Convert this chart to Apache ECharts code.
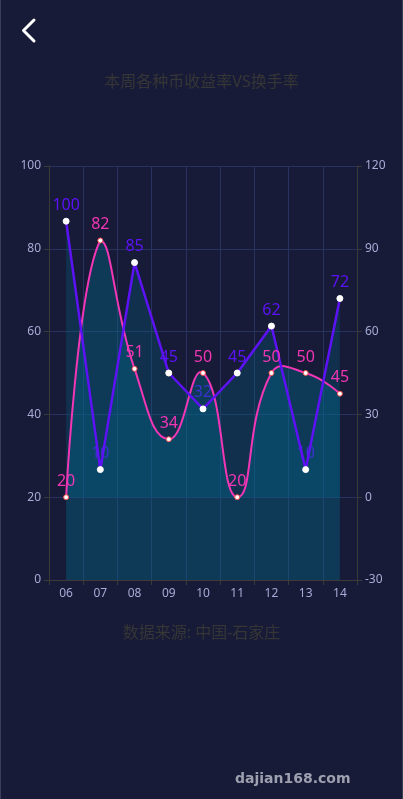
<!DOCTYPE html>
<html>
<head>
<meta charset="utf-8">
<script src="https://cdn.jsdelivr.net/npm/echarts@6/dist/echarts.min.js"></script>
<style>
html,body{margin:0;padding:0;background:#171b37;}
#chart{width:403px;height:799px;}
</style>
</head>
<body>
<div id="chart"></div>
<script>
var categories = ['06','07','08','09','10','11','12','13','14'];
var turnoverRate = [100, 10, 85, 45, 32, 45, 62, 10, 72];   // purple, right axis
var returnRate = [20, 82, 51, 34, 50, 20, 50, 50, 45];       // pink, left axis
var leftTicks = {min: 0, max: 100, interval: 20};
var rightTicks = {min: -30, max: 120, interval: 30};

var axisLabelColor = '#a7abd6';
var splitColor = '#29325f';
var axisLineColor = '#3a3a36';
var areaColor = 'rgba(0,112,145,0.36)';
var purpleColor = '#5c12f5';
var pinkColor = '#f236b6';
var font = "'Noto Sans', 'Noto Sans CJK SC', sans-serif";

// bezier smoothing (control points limited to the bounding box of all points)
function smoothPath(pts, smooth) {
  var minX = Infinity, minY = Infinity, maxX = -Infinity, maxY = -Infinity;
  pts.forEach(function (p) {
    minX = Math.min(minX, p[0]); maxX = Math.max(maxX, p[0]);
    minY = Math.min(minY, p[1]); maxY = Math.max(maxY, p[1]);
  });
  function clamp(c) {
    c[0] = Math.min(maxX, Math.max(minX, c[0]));
    c[1] = Math.min(maxY, Math.max(minY, c[1]));
    return c;
  }
  var n = pts.length, cps = [];
  for (var i = 0; i < n; i++) {
    var p = pts[i];
    if (i === 0 || i === n - 1) { cps.push([p[0], p[1]]); continue; }
    var prev = pts[i - 1], next = pts[i + 1];
    var vx = (next[0] - prev[0]) * smooth, vy = (next[1] - prev[1]) * smooth;
    var d0 = Math.hypot(p[0] - prev[0], p[1] - prev[1]);
    var d1 = Math.hypot(next[0] - p[0], next[1] - p[1]);
    var s = d0 + d1; if (s) { d0 /= s; d1 /= s; }
    cps.push(clamp([p[0] - vx * d0, p[1] - vy * d0]));
    cps.push(clamp([p[0] + vx * d1, p[1] + vy * d1]));
  }
  var d = 'M' + pts[0][0] + ' ' + pts[0][1];
  for (var j = 0; j < n - 1; j++) {
    var a = cps[2 * j], b = cps[2 * j + 1], q = pts[j + 1];
    d += ' C' + a[0] + ' ' + a[1] + ' ' + b[0] + ' ' + b[1] + ' ' + q[0] + ' ' + q[1];
  }
  return d;
}

var chart = echarts.init(document.getElementById('chart'));
chart.setOption({
  backgroundColor: '#171b37',
  textStyle: {fontFamily: font},
  title: [
    {text: '本周各种币收益率VS换手率', left: 'center', top: 69,
     textStyle: {color: '#363636', fontSize: 16, fontWeight: 'normal', fontFamily: font}},
    {text: '数据来源: 中国-石家庄', left: 'center', top: 620,
     textStyle: {color: '#363636', fontSize: 16, fontWeight: 'normal', fontFamily: font}}
  ],
  graphic: [
    {type: 'polyline', shape: {points: [[34, 20], [23.5, 30.5], [34, 41]]},
     style: {stroke: '#ffffff', lineWidth: 3, fill: null, lineCap: 'round', lineJoin: 'round'}},
    {type: 'text', left: 235, top: 772,
     style: {text: 'dajian168.com', fill: '#9ea0b0', font: 'bold 14px "DejaVu Sans"'}},
    {type: 'rect', shape: {x: 0, y: 0, width: 1, height: 799}, style: {fill: '#3a3e58'}},
    {type: 'rect', shape: {x: 402, y: 0, width: 1, height: 799}, style: {fill: '#3a3e58'}}
  ],
  grid: {left: 49, right: 46, top: 166, bottom: 219},
  xAxis: {
    type: 'category',
    data: categories,
    boundaryGap: true,
    axisLine: {lineStyle: {color: axisLineColor}},
    axisTick: {show: true, lineStyle: {color: axisLineColor}},
    axisLabel: {color: axisLabelColor, fontSize: 12, margin: 8},
    splitLine: {show: true, lineStyle: {color: splitColor}}
  },
  yAxis: [
    {type: 'value', min: leftTicks.min, max: leftTicks.max, interval: leftTicks.interval,
     axisLine: {show: true, lineStyle: {color: axisLineColor}},
     axisTick: {show: true, lineStyle: {color: axisLineColor}},
     axisLabel: {color: axisLabelColor, fontSize: 12, margin: 8},
     splitLine: {show: true, lineStyle: {color: splitColor}}},
    {type: 'value', min: rightTicks.min, max: rightTicks.max, interval: rightTicks.interval,
     axisLine: {show: true, lineStyle: {color: axisLineColor}},
     axisTick: {show: true, lineStyle: {color: axisLineColor}},
     axisLabel: {color: axisLabelColor, fontSize: 12, margin: 8},
     splitLine: {show: false}}
  ],
  series: [
    {
      name: '换手率面积', type: 'line', yAxisIndex: 1, data: turnoverRate, z: 2,
      smooth: false, symbol: 'circle', symbolSize: 6,
      lineStyle: {width: 0, opacity: 0},
      itemStyle: {color: 'rgba(0,0,0,0)', borderWidth: 0},
      areaStyle: {color: areaColor},
      label: {show: true, position: 'top', color: purpleColor, fontSize: 16, distance: 5}
    },
    {
      name: '收益率曲线', type: 'custom', yAxisIndex: 0, silent: true, z: 3,
      data: returnRate.map(function (v, i) { return [i, v]; }),
      encode: {x: 0, y: 1},
      renderItem: function (params, api) {
        if (params.dataIndex !== 0) return null;
        var pts = returnRate.map(function (v, i) { return api.coord([i, v]); });
        var path = smoothPath(pts, 0.5);
        var base = api.coord([0, leftTicks.min])[1];
        var first = pts[0], last = pts[pts.length - 1];
        var areaPath = path + ' L' + last[0] + ' ' + base + ' L' + first[0] + ' ' + base + ' Z';
        return {
          type: 'group',
          children: [
            {type: 'path', shape: {pathData: areaPath}, style: {fill: areaColor, stroke: 'none'}},
            {type: 'path', shape: {pathData: path}, style: {fill: 'none', stroke: pinkColor, lineWidth: 2}}
          ]
        };
      }
    },
    {
      name: '换手率', type: 'line', yAxisIndex: 1, data: turnoverRate, z: 4,
      smooth: false, symbol: 'circle', symbolSize: 6,
      lineStyle: {color: purpleColor, width: 2.5},
      itemStyle: {color: '#ffffff', borderColor: '#ffffff', borderWidth: 1}
    },
    {
      name: '收益率', type: 'line', yAxisIndex: 0, data: returnRate, z: 5,
      symbol: 'circle', symbolSize: 5,
      lineStyle: {width: 0, opacity: 0},
      itemStyle: {color: '#ffffff', borderColor: '#f04a4a', borderWidth: 1},
      label: {show: true, position: 'top', color: pinkColor, fontSize: 16, distance: 5}
    }
  ]
});
</script>
</body>
</html>
